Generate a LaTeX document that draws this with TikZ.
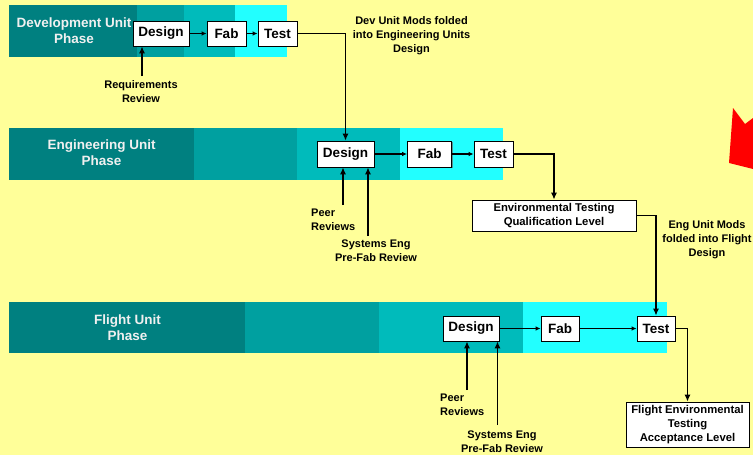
\documentclass[tikz,border=0pt]{standalone}
\usepackage{fontspec}
\setmainfont{Liberation Sans}
\usetikzlibrary{arrows.meta,shadows}
\definecolor{bgyellow}{HTML}{FFFF99}
\definecolor{tealA}{HTML}{008080}
\definecolor{tealB}{HTML}{00A0A0}
\definecolor{tealC}{HTML}{00BBBB}
\definecolor{tealD}{HTML}{22FFFF}
\definecolor{phasetxt}{HTML}{F0F0F0}
\begin{document}
\begin{tikzpicture}[x=1pt,y=-1pt,
  box/.style={draw=black, line width=0.8pt, fill=white, inner sep=0pt, align=center,
    minimum height=25pt,
    font=\bfseries\fontsize{13.5}{16}\selectfont,
    drop shadow={shadow xshift=1.2pt, shadow yshift=-1.2pt, fill=black!60, opacity=0.7}},
  envbox/.style={box, font=\bfseries\fontsize{11.3}{14}\selectfont},
  phase/.style={text=phasetxt, align=center, inner sep=0pt, font=\bfseries\fontsize{13.5}{16}\selectfont},
  lbl/.style={align=center, inner sep=0pt, font=\bfseries\fontsize{11}{14}\selectfont},
  conn/.style={line width=1.2pt, -{Latex[length=7pt,width=6pt]}},
  sconn/.style={line width=1.1pt, -{Latex[length=5pt,width=4.5pt]}}
]
\useasboundingbox (0,0) rectangle (753,455);
\fill[bgyellow] (0,0) rectangle (753,455);

% red shape at right edge
\fill[red] (733,108) -- (745,124) -- (753,118) -- (753,169) -- (729,163) -- cycle;

% Development bar
\fill[tealA] (9,5) rectangle (137,57);
\fill[tealB] (137,5) rectangle (184,57);
\fill[tealC] (184,5) rectangle (235,57);
\fill[tealD] (235,5) rectangle (287,57);
% Engineering bar
\fill[tealA] (9,128) rectangle (194,180);
\fill[tealB] (194,128) rectangle (297,180);
\fill[tealC] (297,128) rectangle (400,180);
\fill[tealD] (400,128) rectangle (503,180);
% Flight bar
\fill[tealA] (9,302) rectangle (245,353);
\fill[tealB] (245,302) rectangle (379,353);
\fill[tealC] (379,302) rectangle (523,353);
\fill[tealD] (523,302) rectangle (667,353);

% phase texts
\node[phase] (pdev) at (74,31) {Development Unit\\Phase};
\node[phase] (peng) at (101.5,153) {Engineering Unit\\Phase};
\node[phase] (pfl) at (127.5,327.5) {Flight Unit\\Phase};

% Development boxes
\node[box, minimum width=56pt] (ddesign) at (161,33.5) {Design};
\node[box, minimum width=39pt] (dfab) at (226.5,33.5) {Fab};
\node[box, minimum width=39pt] (dtest) at (277.5,33.5) {Test};
% Engineering boxes
\node[box, minimum width=57pt, minimum height=26pt] (edesign) at (345.5,154) {Design};
\node[box, minimum width=44pt, minimum height=26pt] (efab) at (429.5,154) {Fab};
\node[box, minimum width=39pt, minimum height=26pt] (etest) at (493.5,154) {Test};
\node[envbox, minimum width=164pt, minimum height=31pt] (env) at (554,215.5) {Environmental Testing\\Qualification Level};
% Flight boxes
\node[box, minimum width=56pt] (fdesign) at (471,328.5) {Design};
\node[box, minimum width=38pt] (ffab) at (560,328.5) {Fab};
\node[box, minimum width=38pt] (ftest) at (656,328.5) {Test};
\node[envbox, minimum width=123pt, minimum height=45pt] (fenv) at (687.5,424.5) {Flight Environmental\\Testing\\Acceptance Level};

% labels
\node[lbl] (rr) at (141,92) {Requirements\\Review};
\node[lbl] (devmods) at (411.5,35.5) {Dev Unit Mods folded\\into Engineering Units\\Design};
\node[lbl, align=left, anchor=west] (epeer) at (311,219.5) {Peer\\Reviews};
\node[lbl] (esys) at (376,251) {Systems Eng\\Pre-Fab Review};
\node[lbl] (engmods) at (707,239.5) {Eng Unit Mods\\folded into Flight\\Design};
\node[lbl, align=left, anchor=west] (fpeer) at (440,405) {Peer\\Reviews};
\node[lbl] (fsys) at (502,442) {Systems Eng\\Pre-Fab Review};

% review arrow start points
\coordinate (rrc) at (142,76);
\coordinate (epc) at (343,205);
\coordinate (esc) at (368,236);
\coordinate (fpc) at (467,390);
\coordinate (fsc) at (497.5,425);

% flow arrows
\draw[sconn] (ddesign) -- (dfab);
\draw[sconn] (dfab) -- (dtest);
\draw[sconn] (edesign) -- (efab);
\draw[sconn] (efab) -- (etest);
\draw[sconn] (fdesign) -- (ffab);
\draw[sconn] (ffab) -- (ftest);

\draw[conn] (dtest.east) -| (edesign.north);
\draw[conn] (etest.east) -| (env.north);
\draw[conn] (env.east) -| (ftest.north);
\draw[conn] (ftest.east) -| (fenv.north);

\draw[conn] (rrc) -- (rrc |- ddesign.south);
\draw[conn] (epc) -- (epc |- edesign.south);
\draw[conn] (esc) -- (esc |- edesign.south);
\draw[conn] (fpc) -- (fpc |- fdesign.south);
\draw[conn] (fsc) -- (fsc |- fdesign.south);
\end{tikzpicture}
\end{document}
